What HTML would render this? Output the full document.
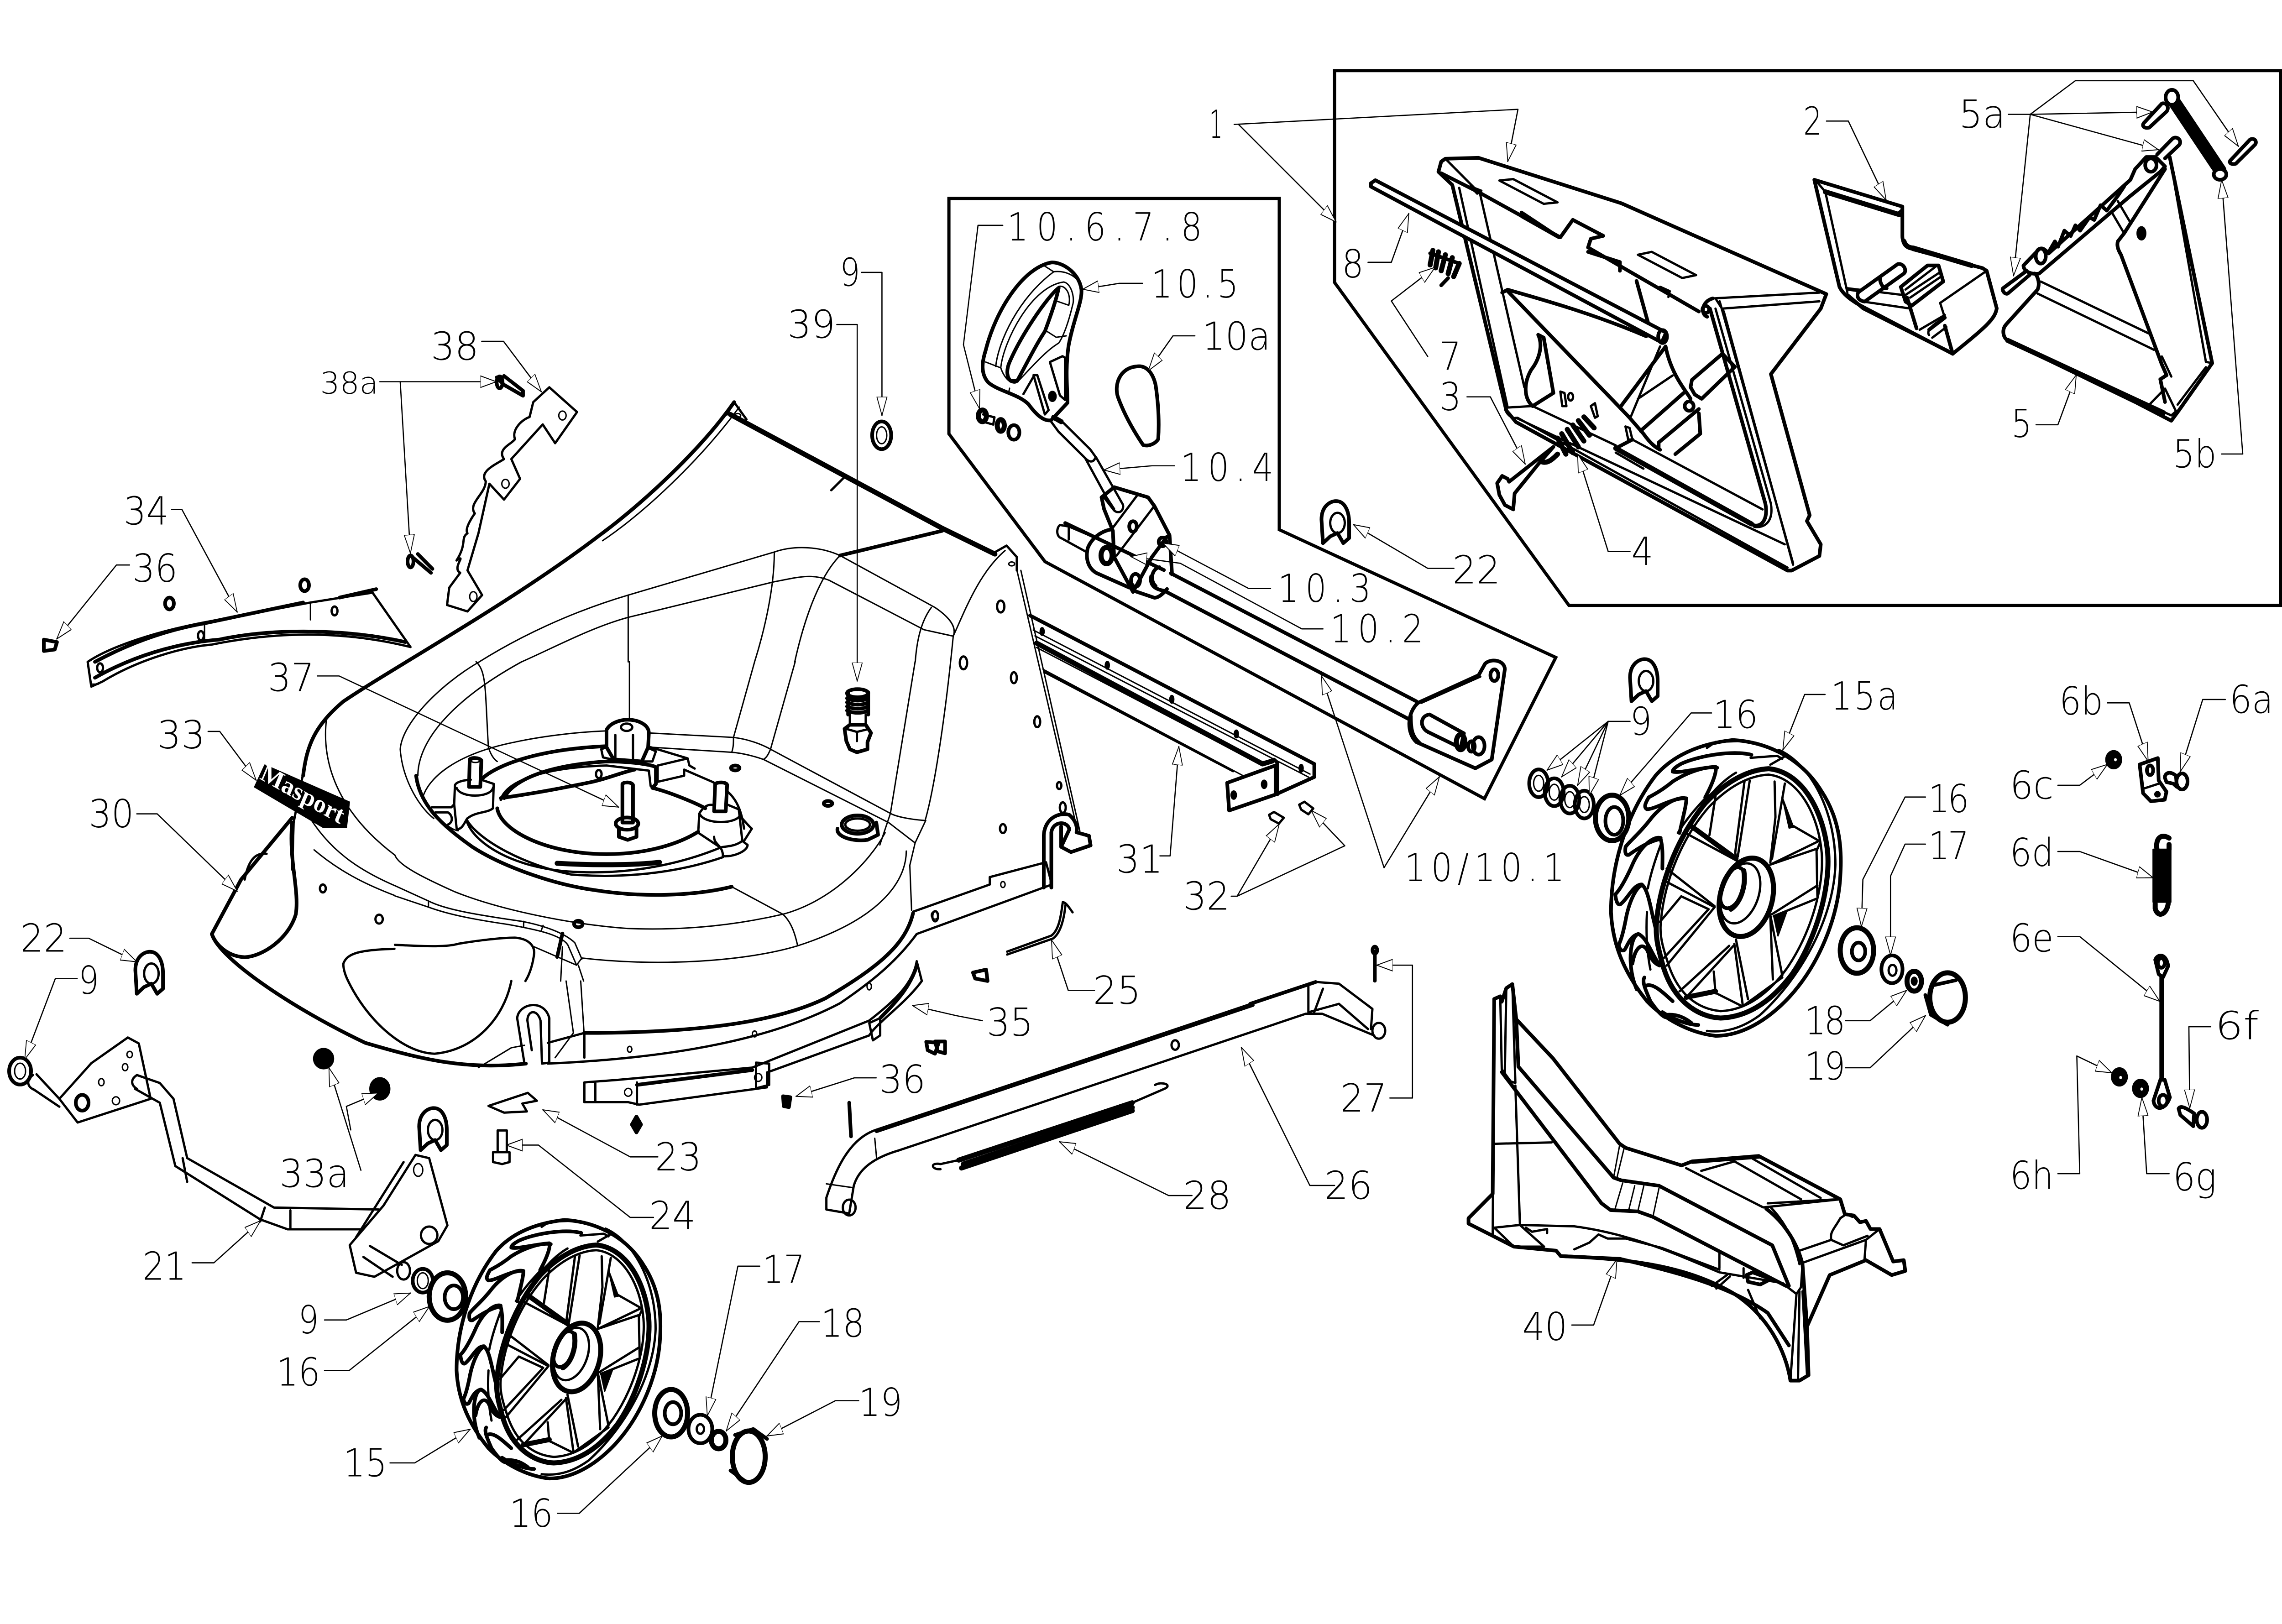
<!DOCTYPE html>
<html><head><meta charset="utf-8"><style>
html,body{margin:0;padding:0;background:#fff;width:100%;height:100%;overflow:hidden}
svg{display:block;width:100vw;height:100vh}
path,ellipse,circle,line,rect,polyline,polygon{fill:none;stroke:#000;stroke-width:3;stroke-linejoin:round;stroke-linecap:round;vector-effect:non-scaling-stroke}
.m{stroke-width:5}
.k{stroke-width:8}
.x{stroke-width:11}
.f{fill:#000}
.w{fill:#fff}
.b{stroke-width:7;stroke-linejoin:miter}
.ld path{stroke-width:2.6}
.ld path.n{marker-end:url(#ar)}
text{font-family:"DejaVu Sans","Liberation Sans",sans-serif;font-weight:200;font-size:23px;fill:#000;stroke:none}
.mk{fill:#fff;stroke:#000;stroke-width:.55;vector-effect:none}
</style></head><body>
<svg xmlns="http://www.w3.org/2000/svg" viewBox="0 0 5778 3559" preserveAspectRatio="none">
<defs>
<marker id="ar" markerUnits="userSpaceOnUse" markerWidth="14" markerHeight="10" refX="11" refY="4" orient="auto" viewBox="0 0 14 8"><path class="mk" d="M0,.5 L11,4 L0,7.5Z"/></marker>
<g id="clip"><path class="k w" d="M-8,12 L-9,-2 C-9,-10 -3,-13 1,-13 C7,-13 10,-7 10,0 L10,9 L6,12 L2,6 L-3,8 L-8,12Z"/><ellipse class="m" cx="2" cy="0" rx="5" ry="6"/></g>
<g id="wheel">
<path class="k w" d="M90,920 C90,650 200,400 350,230 C450,130 600,70 800,50 C1000,60 1200,140 1320,310 C1410,430 1440,560 1430,720 C1420,950 1300,1190 1130,1350 C1000,1470 850,1545 700,1545 C550,1530 400,1460 300,1370 C180,1240 100,1100 90,920 Z"/>
<path class="m" d="M1070,100 C1250,170 1400,400 1400,680 C1390,950 1200,1250 960,1440 C850,1510 750,1530 650,1520"/>
<path class="x" d="M355,980 C370,800 460,560 640,370 C760,260 890,200 1010,195 C1200,210 1330,400 1355,620 C1370,800 1290,1050 1150,1230 C1020,1380 880,1450 730,1455 C600,1450 450,1370 390,1180 C365,1100 350,1050 355,980Z"/>
<path class="m" d="M380,980 C395,800 480,570 660,390 C770,290 890,230 1010,225 C1180,240 1300,420 1320,620 C1335,790 1260,1020 1120,1200 C1000,1345 870,1415 730,1420 C600,1410 480,1340 420,1170 C390,1090 375,1040 380,980Z"/>
<ellipse class="x" cx="880" cy="845" rx="150" ry="205" transform="rotate(22 880 845)"/>
<ellipse class="m" cx="845" cy="825" rx="105" ry="160" transform="rotate(25 845 825)"/>
<ellipse class="k" cx="800" cy="797" rx="62" ry="110" transform="rotate(25 800 797)"/>
<path class="x" d="M865,710 C880,780 850,870 790,905"/>
<path class="m" d="M870,255 L815,620 L825,655 M900,255 L830,640 M700,335 L665,530 M1045,260 L1050,440 L1020,670 M1105,270 L1030,650 M1155,485 L1305,560 L1020,680 M1290,600 L1020,680 M1310,570 L1290,610 L1295,840 M1030,930 L1295,785 M1040,940 L1295,850 M1020,935 L1090,1240 M1020,940 L1035,1260 M820,1060 L890,1360 M810,1080 L860,1395 M1090,1250 L860,1395 M780,1090 L490,1320 M805,1090 L530,1350 M690,1220 L700,1330 M705,1330 L855,1395 M695,890 L415,700 M695,895 L400,760 M660,905 L500,840 M500,840 L375,970 M660,905 L400,1150 M690,900 L415,1190 M525,520 L825,660"/>
<path class="x" d="M550,480 L820,650 M530,1350 L700,1320"/>
<path class="f" d="M1090,340 L1155,490 L1130,495 Z M1040,940 L1115,920 L1065,1040Z"/>
<path class="k" d="M910,125 C800,100 600,130 500,170 C480,180 450,195 450,210 C480,220 620,190 700,185 C710,200 690,260 640,340"/>
<path class="k" d="M710,190 C650,180 540,210 450,260 C380,310 330,330 310,340 C290,370 280,390 300,400 C350,400 450,340 530,345 C530,380 510,440 490,520"/>
<path class="k" d="M530,345 C480,335 400,370 330,440 C260,520 200,560 175,590 C170,620 175,635 195,630 C260,590 320,560 380,550 C395,600 390,650 390,700"/>
<path class="k" d="M380,545 C340,535 270,580 220,670 C180,750 140,810 115,830 C120,870 130,885 145,880 C190,850 220,780 270,780 C310,810 320,900 350,1000"/>
<path class="k" d="M270,785 C240,790 200,860 180,940 C165,1010 150,1060 135,1085 C140,1110 155,1120 170,1110 C190,1080 205,1040 250,1030 C300,1050 320,1120 375,1190"/>
<path class="k" d="M250,1030 C215,1040 200,1110 205,1180 C210,1240 225,1280 240,1310 M215,1180 C230,1100 270,1070 300,1110 C320,1150 340,1180 375,1190"/>
<path class="k" d="M285,1250 C270,1270 290,1310 320,1370 C360,1420 400,1460 420,1450 M300,1290 C340,1280 400,1330 450,1370 M390,1425 C450,1460 540,1490 600,1490 M400,1440 C480,1430 530,1460 560,1480"/>
<path class="m" d="M380,580 C350,650 320,730 305,800 M300,920 C295,1000 295,1100 320,1210 M905,140 L1060,130 L1090,145 M640,345 C580,400 530,450 480,520 M820,215 C770,240 720,280 690,310 L630,360 M1020,175 L1100,135 M650,90 L700,60 L850,55"/>
</g>
</defs>

<!-- DECK & parts from zoom 1 -->
<g transform="translate(0,800) scale(1.8495,1.0842)">
<path class="k" d="M1005,75 C960,170 880,280 820,345 C700,480 540,610 470,680 C430,730 420,770 415,830"/>
<path d="M1012,85 C965,180 890,290 825,355"/>
<path class="x" d="M1000,100 L1290,330 L1362,382"/>
<path class="m" d="M995,100 L1005,75 L1022,110"/><circle cx="1010" cy="102" r="4"/>
<path class="m" d="M1138,253 L1155,228"/>
<path class="k" d="M1150,385 L1290,335"/>
<path class="m" d="M1360,380 L1378,365 L1392,388 L1392,415"/><circle cx="1385" cy="402" r="4"/>
<path d="M1376,375 C1340,420 1320,500 1305,548 C1295,700 1280,850 1267,918"/>
<path d="M1150,385 C1120,365 1085,365 1060,378 L860,465 C780,500 710,550 656,600"/>
<path d="M1135,435 C1110,420 1090,430 1060,438 L860,510 C810,530 760,570 714,600"/>
<path d="M1150,385 L1280,490 C1300,510 1310,530 1305,548 M1135,435 L1265,535 L1305,548 M1275,490 C1260,520 1255,560 1253,600"/>
<path d="M860,465 L860,600 M1060,380 C1060,440 1050,520 1033,600 M1150,385 C1120,430 1100,520 1088,600"/>
<path d="M447,715 C440,800 460,900 540,990"/>
<path d="M420,905 C450,980 490,1020 540,1052 M430,980 C470,1030 510,1055 540,1072 M795,1245 L800,1360 M775,1245 L785,1350 L760,1400"/>
<path class="m" d="M415,825 L402,925 L400,1020"/>
<!-- washer 9 -->
<ellipse class="k" cx="1207" cy="142" rx="13" ry="28"/><ellipse cx="1207" cy="142" rx="7" ry="17"/>
<!-- holes -->
<ellipse class="m" cx="1370" cy="488" rx="5" ry="12"/><ellipse class="m" cx="1319" cy="602" rx="5" ry="13"/><ellipse class="m" cx="1388" cy="632" rx="4" ry="11"/><ellipse class="m" cx="1420" cy="721" rx="4" ry="11"/><ellipse class="m" cx="1450" cy="850" rx="3" ry="7"/><ellipse class="m" cx="1373" cy="937" rx="4" ry="9"/>
<ellipse class="m" cx="442" cy="1058" rx="4" ry="8"/><ellipse class="m" cx="519" cy="1120" rx="5" ry="9"/>
<!-- nose -->
<path class="k" d="M400,915 L330,1040 L290,1150 C300,1200 400,1300 500,1370 C580,1405 640,1425 720,1412"/>
<path class="k" d="M400,925 C395,1000 410,1060 405,1110 C395,1160 360,1195 335,1197 C310,1195 295,1170 290,1150"/>
<path class="m" d="M335,1040 C340,1000 350,985 365,988"/>
<!-- vent -->
<path class="m" d="M470,1210 C475,1190 490,1182 540,1180 M700,1245 C690,1320 650,1385 595,1392 C550,1390 500,1320 475,1240 C472,1230 470,1220 470,1210"/>
<path d="M655,1420 L700,1380 L718,1375"/>
<!-- hook lower -->
<path class="m" d="M718,1412 L708,1320 C710,1290 745,1280 752,1320 L752,1410 L742,1412 L740,1325 C735,1300 722,1305 722,1325 L728,1385"/>
<!-- flange -->
<path class="m" d="M1250,1105 L1355,1050 L1355,1035 L1432,1005 L1440,1050 L1255,1150"/><ellipse cx="1373" cy="1050" rx="3" ry="6"/><ellipse cx="1280" cy="1112" rx="5" ry="8"/>
<path class="k" d="M1250,1108 C1240,1170 1205,1215 1130,1280 C1060,1330 950,1350 800,1350"/>
<path class="m" d="M1255,1150 C1230,1200 1200,1240 1150,1290 C1060,1360 930,1400 750,1412 M750,1370 L800,1350 L800,1400"/>
<ellipse cx="1190" cy="1256" rx="3" ry="7"/><ellipse cx="1033" cy="1352" rx="3" ry="6"/><ellipse cx="862" cy="1383" rx="3" ry="6"/>
<!-- part 35 -->
<path class="m" d="M1255,1205 L1262,1245 C1240,1290 1200,1330 1190,1355 L1050,1430 L1050,1460 L875,1495 L860,1490 L800,1490 L800,1450 L845,1445 L1030,1420 L1190,1325 C1225,1285 1250,1250 1255,1205Z"/>
<path class="k" d="M872,1455 L1030,1425 M1205,1320 C1225,1290 1245,1260 1255,1215"/>
<path class="m" d="M815,1452 L815,1490 M1035,1410 L1053,1412 L1053,1455 L1035,1462 Z M1190,1330 L1205,1320 L1205,1355 L1195,1365Z M872,1450 L872,1495"/>
<ellipse cx="1038" cy="1440" rx="5" ry="8"/><ellipse cx="860" cy="1470" rx="5" ry="8"/>
<!-- part 34 -->
<path class="m" d="M120,600 L125,650 L140,640 C190,595 250,570 290,565 C390,535 480,540 562,570 L510,460 L425,480 L280,520 C210,540 150,570 120,600Z"/>
<path class="k" d="M130,600 C180,560 230,535 280,522 L415,480 M465,470 L515,453 M130,632 C180,590 240,562 300,555 C380,530 480,535 555,560"/>
<path d="M280,522 L280,555 M425,482 L425,515 M125,645 L135,645"/><ellipse class="m" cx="275" cy="547" rx="4" ry="9"/><ellipse class="m" cx="458" cy="497" rx="4" ry="9"/><ellipse class="m" cx="137" cy="612" rx="4" ry="9"/>
<ellipse class="k" cx="232" cy="482" rx="6" ry="12"/><ellipse class="k" cx="417" cy="445" rx="6" ry="12"/>
<path class="k" d="M60,555 L78,560 L75,575 L60,578 Z"/>
<!-- part 38 -->
<path class="m" d="M752,45 L790,95 L760,158 L743,120 L700,190 L712,230 L690,272 L670,240 L655,340 L640,415 L660,465 L640,498 L612,485 L615,450 L630,420 C618,410 640,380 625,395 C640,360 630,350 640,340 C635,330 650,300 650,300 C640,280 665,260 665,235 C655,215 680,200 690,190 C680,170 700,160 705,150 C700,130 715,110 725,105 L730,75 Z"/>
<ellipse cx="770" cy="102" rx="5" ry="9"/><ellipse cx="692" cy="240" rx="5" ry="9"/><ellipse cx="648" cy="468" rx="5" ry="10"/>
<path class="k" d="M680,25 L690,40 L716,62 M690,22 L716,52 M716,52 L716,62"/><ellipse class="k" cx="684" cy="35" rx="4" ry="12"/>
<path class="k" d="M562,385 L590,420 M572,382 L592,412"/><ellipse class="k" cx="562" cy="397" rx="4" ry="12"/>
<!-- small bolts -->
<path class="k" d="M1332,1228 L1350,1222 L1352,1245 L1335,1240Z"/><path class="k" d="M1268,1368 L1285,1370 L1280,1392 L1270,1385Z"/>
<path class="k f" d="M1072,1478 L1082,1480 L1080,1500 L1073,1498Z"/>
<ellipse class="k f" cx="443" cy="1402" rx="12" ry="18"/><ellipse class="k f" cx="520" cy="1463" rx="12" ry="20"/>
</g>

<!-- centre of deck -->
<g transform="translate(1000,1450) scale(.8929,.4464)">
<path d="M15,430 C20,300 130,110 240,0 M230,0 C260,50 255,130 265,420 C270,450 280,480 290,490 M65,560 C65,400 150,200 360,0 M80,660 C100,750 160,830 180,830 M665,0 L665,285 M1020,0 L960,372 M1135,0 L1065,430 M1475,0 L1405,745 L1375,900 M1505,780 L1475,890 L1460,1000 L1465,1220 M15,430 C20,560 60,700 110,770"/>
<path d="M80,660 C100,560 180,450 340,395 C420,365 520,345 600,340 M720,350 L960,372 C1000,380 1040,405 1065,430 L1405,745 C1420,760 1460,775 1505,780 M960,372 C960,400 960,420 955,445 M1065,430 C1060,450 1055,470 1045,480 M725,420 L955,445 C990,450 1020,465 1045,480 L1400,790 L1475,890 M1390,840 C1340,1000 1230,1180 1100,1240 C950,1300 800,1320 660,1310 C500,1290 300,1220 170,1130 C80,1060 10,1000 0,950 M1450,930 C1450,1050 1400,1250 1142,1395 M955,1105 L1100,1240 C1125,1280 1135,1340 1142,1395 C1000,1470 750,1500 530,1455 L515,1490 L395,1400"/>
<path class="k" d="M60,560 C70,700 130,800 220,910 C300,1000 440,1090 560,1120 C700,1160 850,1150 955,1105 M250,570 C290,510 400,430 600,415 M310,670 C330,590 420,510 600,490 C680,490 740,510 740,520 L740,600 L730,620 C780,640 860,700 880,720 M290,720 C300,830 430,945 600,945 C720,945 810,890 860,835 M300,670 C380,650 450,630 560,590 C610,570 640,545 680,530"/>
<path class="m" d="M300,680 C310,600 400,520 600,510 L720,535 L725,610 L730,620 M205,790 C230,900 340,1010 490,1030 C650,1050 800,1000 920,915 M205,780 C240,880 370,1000 500,1045 C680,1070 830,1020 930,960"/>
<path class="x" d="M460,990 C560,1000 680,1000 750,985"/>
<path class="m" d="M745,510 L830,475 L835,510 L850,525 M745,590 L820,560 L820,530 L900,590 C960,640 980,700 990,820 M725,420 L830,475 M745,510 L745,590"/>
<path class="k w" d="M600,335 C610,300 640,285 660,285 C690,285 720,310 720,350 L718,420 L700,490 L620,480 L600,420 Z"/><ellipse class="m" cx="657" cy="322" rx="16" ry="18"/><path class="m" d="M625,360 L625,480 M675,360 L675,490 M600,420 L585,430 L590,470 L615,480 M720,425 L740,440 L730,490 L705,490"/>
<path class="k w" d="M212,480 C215,470 240,470 245,485 L242,615 L210,615 Z"/><ellipse cx="228" cy="487" rx="12" ry="8"/>
<path class="m" d="M170,610 C170,590 200,580 215,580 M245,580 L280,600 L278,720 C260,745 230,735 205,770 C200,780 190,830 175,820 L168,700 L170,610 M175,620 C185,670 270,670 278,620 M105,715 L160,715 L168,700 M115,740 L150,740 C165,755 165,790 150,800"/>
<path class="k w" d="M908,600 C915,590 940,590 942,605 L938,735 L905,735 Z"/>
<path class="m" d="M865,740 C880,700 895,700 905,705 M940,700 L975,725 L985,880 C960,915 920,905 925,915 L860,840 L863,745 M865,750 C880,800 970,800 980,750 M930,955 C960,960 1000,930 1000,900 L985,880 M905,860 C905,900 930,900 930,955 M985,770 C995,790 1005,810 1012,820 L990,880"/>
<path class="k w" d="M645,600 C650,590 670,590 675,605 L675,790 L645,790 Z"/><ellipse class="k" cx="658" cy="795" rx="32" ry="30"/><path class="k" d="M635,820 L635,860 L660,875 L685,860 L685,820"/>
<!-- bolt 39 -->
<ellipse class="k" cx="1312" cy="155" rx="30" ry="20"/>
<path class="k" d="M1282,180 C1300,195 1325,195 1342,180 M1282,200 C1300,215 1325,215 1342,200 M1282,220 C1300,235 1325,235 1342,220 M1282,240 C1300,255 1325,255 1342,240 M1285,150 L1285,260 M1342,150 L1342,260"/>
<path class="m" d="M1290,260 L1290,310 M1335,260 L1335,310"/>
<path class="k" d="M1290,310 L1275,330 L1280,390 L1290,430 L1310,445 L1340,430 L1340,395 L1350,350 L1335,310Z"/><path class="m" d="M1310,345 L1310,390 M1280,330 L1310,345 L1345,330"/>
<!-- plug -->
<ellipse class="k" cx="1312" cy="800" rx="45" ry="45"/><ellipse class="m" cx="1312" cy="800" rx="35" ry="30"/><path class="k" d="M1255,820 C1250,860 1300,885 1340,875 L1370,850 L1365,790"/>
<ellipse class="k" cx="965" cy="522" rx="12" ry="12"/><ellipse class="k" cx="1228" cy="696" rx="12" ry="12"/><ellipse class="m" cx="578" cy="552" rx="8" ry="20"/><ellipse class="k" cx="520" cy="1288" rx="12" ry="16"/>
<!-- lower band -->
<path d="M0,1100 L95,1175 C140,1215 220,1240 360,1275 C420,1295 480,1330 510,1380 L530,1460 M0,1150 L95,1205 C150,1240 220,1265 320,1290 C400,1315 470,1340 490,1390 L515,1490 M95,1175 L95,1205 M365,1275 L365,1300 M420,1295 L415,1320 M475,1400 L470,1568 M520,1490 L535,1568"/>
<path class="k" d="M475,1335 L460,1450"/>
<path class="m" d="M0,1390 C100,1400 150,1400 180,1385 C230,1370 300,1355 340,1355 C380,1360 395,1395 395,1430 C390,1500 380,1540 370,1568"/>
<ellipse class="m" cx="1532" cy="1250" rx="8" ry="25"/>
</g>

<!-- chute frame -->
<g transform="translate(3600,300) scale(.7015,.6378)">
<path class="k" d="M85,75 L205,72 L720,228 L1460,540 L1440,590 L1260,815 L1400,1300 L1390,1320 L1440,1400 L1435,1440 L1335,1490 L1320,1490 L340,980 L305,940 L110,165 L60,120 L70,85 Z"/>
<path class="k" d="M70,125 L205,190 L490,340 L500,345 L545,285 L655,340 L610,350 L600,380 L1000,600"/>
<path class="m" d="M1050,555 L1435,535 M1085,590 L1435,565 M135,175 L310,930 M210,195 L370,860 M300,935 C310,960 330,970 345,965 L1320,1480 M340,965 L1310,1400 M395,925 L310,930 M85,75 L205,190"/>
<path class="k" d="M1040,590 L1240,1260 C1250,1310 1230,1340 1200,1335 L1190,1330 L700,1070 L760,1040"/>
<path class="m" d="M1060,590 L1260,1260 C1270,1320 1240,1345 1200,1340 M400,925 L700,1060 M760,1040 L1230,1280 M1060,555 L1090,600 L1340,1470 M1075,565 L1340,1465"/>
<circle class="k" cx="1025" cy="593" r="12"/><path class="k" d="M1050,555 C1010,565 1005,610 1030,618"/>
<path class="m" d="M280,150 L330,145 L490,225 L440,230 Z M780,405 L830,395 L990,475 L940,485 Z"/>
<path class="k" d="M360,260 L495,345 M600,395 L715,430 L715,460"/>
<path class="m" d="M360,275 L490,345 M175,170 L215,185 L200,195 Z M860,515 L895,530 L890,550"/>
<path class="k" d="M775,495 L820,650 M290,535 L310,525 C400,550 600,600 810,685"/>
<path class="k" d="M310,530 L720,935 L750,965 L800,1020 C830,1060 850,1070 860,1075 M880,720 C900,820 960,880 970,900 M880,720 L715,930"/>
<path class="m" d="M860,720 L755,960 M780,900 L905,820"/>
<path class="k" d="M975,835 L1085,745 L1130,790 L1010,900 L985,885 L970,860 Z"/>
<path class="k" d="M945,880 L790,1010 M1000,935 L855,1050 L855,1070 M1000,950 L1005,1020 L915,1090"/>
<circle class="k" cx="965" cy="925" r="16"/>
<path class="k" d="M420,680 L440,690 L475,880 L400,925 C370,900 365,850 395,800 C420,770 440,720 420,680Z"/>
<path class="m" d="M500,875 L515,880 L522,925 L507,925Z M610,925 L625,915 L635,960 L625,965Z"/><ellipse class="m" cx="537" cy="893" rx="9" ry="13"/>
<path class="x" d="M700,1070 L1190,1330"/><path class="m" d="M700,1085 L800,1140 M735,995 L750,1000 L760,1040 L745,1040Z"/>
<path class="x" d="M585,962 L622,1000 M565,975 L605,1025 M545,990 L585,1045 M525,1005 L565,1065 M505,1020 L545,1085 M490,1035 L520,1090"/>
<path class="k w" d="M272,1190 L290,1165 L310,1175 L315,1185 L475,1065 L420,1125 L335,1225 L330,1280 L300,1265 L280,1230 Z"/>
<path class="x" d="M430,1115 C450,1125 470,1110 490,1090" stroke-dasharray="9 3"/>
<path class="x" d="M40,390 L30,440 M60,395 L50,450 M85,405 L70,460 M110,415 L95,470 M135,435 L115,480"/><path class="k" d="M95,485 L70,510 M30,400 L135,435"/>
</g>

<!-- rod 8 -->
<g transform="translate(2300,100) scale(2.2309,1.0842)">
<path class="k w" d="M525,278 L530,272 L860,580 L855,600 L525,285 Z"/><ellipse class="k" cx="856" cy="588" rx="5" ry="13"/>
<path class="k" d="M178,965 L290,1060"/>
</g>

<!-- parts 2,5 -->
<g transform="translate(4550,130) scale(.7964,.5867)">
<path class="k" d="M55,450 L335,550 L335,660 C335,690 350,700 370,710 L590,780 L603,790 L635,930 C630,970 600,1000 495,1100 L210,925 C170,900 145,875 135,850 Z"/>
<path class="x" d="M90,495 L325,580 M340,680 C345,700 360,705 370,705 L555,770"/>
<path class="m" d="M65,460 L90,495 L160,870 M335,560 L325,570 M603,790 L455,910 L470,965 C430,990 410,1015 420,1030 M160,860 L190,865 M210,905 L355,930 M160,855 L335,880"/>
<path class="k w" d="M195,870 L320,765 C340,760 350,790 340,800 L215,905 C190,900 190,880 195,870 Z"/><path class="k" d="M265,815 C260,830 275,860 285,855"/>
<path class="k" d="M330,850 L415,770 L450,770 L465,830 L365,920 L345,905Z"/><path class="m" d="M345,860 L440,775 M345,880 L455,795 M360,890 L460,810"/>
<path class="k" d="M350,890 L380,1005 M470,965 L420,1010 M470,995 L495,1100 M160,880 L210,930 L480,1090"/>
<path class="m" d="M390,1010 L470,955 M430,1040 L475,1000"/>
<!-- 5 -->
<path class="k" d="M1185,365 L1320,1135 L1215,1310 L1190,1350 L1075,1280 L670,1050 C655,1040 650,1010 665,990 L765,860 C775,830 760,800 755,800"/>
<path class="k" d="M720,770 L765,715 C775,700 785,705 800,725 L1060,450 L1075,410 L1110,365 L1140,365 L1170,400 L1155,420 L1060,510 L1000,570 L770,800 C750,805 720,795 720,770Z"/>
<path class="k" d="M800,720 L820,680 L830,700 L850,640 L870,660 L885,620 L900,640 L930,590 L945,600 L965,545 L985,565 L1020,510 L1040,475"/>
<ellipse class="k" cx="775" cy="735" rx="16" ry="28"/><ellipse class="k" cx="1125" cy="395" rx="18" ry="25"/><ellipse class="k f" cx="1095" cy="650" rx="10" ry="20"/>
<path class="k" d="M1170,410 L1040,650 L1020,680 C1015,700 1025,720 1030,730 L1160,1140 L1175,1180 L1155,1195 L1170,1280"/>
<path class="m" d="M1000,570 L1040,650 M1020,530 L1060,610 M775,830 L1120,1025 M765,875 L1135,1085 M1185,365 L1300,1130 L1320,1135 M1300,1150 L1210,1290 M1120,1290 L1170,1230 L1205,1315 L1190,1330 L1075,1270 M1160,1110 L1190,1185"/>
<path class="x" d="M670,1050 L1165,1320"/>
<path class="k" d="M1105,235 L1160,165 C1175,160 1185,180 1175,195 L1120,255 C1100,260 1095,245 1105,235Z M1145,355 L1195,295 C1210,285 1225,305 1215,320 L1170,370 M1380,375 L1440,300 C1455,290 1465,310 1455,320 L1395,390 C1380,395 1370,385 1380,375Z M655,855 L730,790 M670,875 L740,805 M655,855 C650,860 660,880 670,875"/>
<path d="M1200,160 L1345,415" style="stroke-width:28"/>
<ellipse class="k w" cx="1192" cy="142" rx="20" ry="28"/><ellipse class="k w" cx="1345" cy="430" rx="20" ry="20"/>
</g>

<!-- handle -->
<g transform="translate(2400,500) scale(.6378)">
<path class="k" d="M410,118 C450,115 520,150 530,210 C535,250 500,310 480,400 C465,480 475,560 475,600 L410,660 C380,665 350,640 320,605 C280,570 200,560 160,530 C130,500 135,460 150,420 C190,280 300,135 410,118Z"/>
<path d="M150,460 L210,480 M190,475 C200,390 280,240 420,150 M210,480 C220,390 330,200 460,185 C490,190 505,240 495,265 C480,320 460,370 440,395 C390,420 330,480 280,525 C260,545 225,520 210,480 M375,125 L420,150 C460,145 510,160 525,195 M440,200 C470,195 490,230 480,265 M430,250 L480,265 M385,350 L430,375 L470,370 M240,570 L245,550"/>
<path class="k" d="M440,205 C390,240 290,370 245,460 C230,490 235,515 250,525 L275,525 C310,470 350,400 385,355 C400,320 430,250 440,205 Z"/>
<path class="m" d="M405,460 L455,440 L465,445 L465,590 L445,575 Z M340,505 L355,505 L400,625 L385,640 L345,520Z M300,570 L340,510"/><ellipse class="k f" cx="415" cy="578" rx="10" ry="13"/>
<path class="m" d="M410,665 L440,700 L545,790 L630,925 L660,965 M460,670 L565,760 L590,790 L695,950 C700,970 680,985 660,970 L615,920 M545,790 C555,800 575,810 585,790"/>
<path class="x" d="M420,650 L450,665"/>
<path class="k" d="M610,925 L660,890 L795,925 L820,955 L880,1055 L890,1190 M610,925 L620,965 L655,1040 L660,1130 L735,1250 L810,1130 L870,1060"/>
<path class="m" d="M650,1035 L750,920 M670,1125 L815,960"/>
<path class="k" d="M650,1035 C610,1040 570,1065 555,1100 C545,1140 560,1170 590,1185 L720,1235 M735,1245 L820,1270 C840,1270 860,1250 870,1240"/>
<ellipse class="k" cx="735" cy="1025" rx="15" ry="18"/><ellipse class="x" cx="630" cy="1125" rx="22" ry="28"/><ellipse class="k" cx="745" cy="1210" rx="18" ry="22"/><ellipse class="k" cx="852" cy="1078" rx="15" ry="15"/>
<path class="m" d="M445,1020 C430,1030 430,1060 450,1065 L555,1115 M480,1025 L575,1060 M445,1020 L480,1025 L480,1070"/>
<path class="k" d="M840,1165 C810,1170 800,1210 825,1230"/>
<!-- 10.6.7.8 small -->
<ellipse class="x" cx="137" cy="645" rx="16" ry="20"/><path class="m" d="M140,640 L185,650 L180,675 L140,665"/><ellipse class="x" cx="210" cy="678" rx="14" ry="20"/><ellipse class="k" cx="262" cy="702" rx="22" ry="25"/>
<!-- knob 10a -->
<path class="k" d="M750,475 C790,470 815,500 825,540 C835,600 840,660 835,725 C820,745 790,750 775,745 C740,700 700,640 675,580 C660,540 680,480 750,475Z"/>
</g>

<!-- channel, arm plate, shaft -->
<g transform="translate(2550,1250) scale(.8291,.6378)">
<path d="M30,0 L215,895 M42,0 L222,895"/>
<path class="k" d="M70,155 L938,665 L938,710 L820,770"/>
<path d="M80,205 L925,700 M85,225 L920,710"/>
<path class="x" d="M90,250 L780,665 L810,655"/>
<path d="M90,265 L780,670 M110,340 L720,705"/>
<path class="m" d="M115,350 L690,690"/>
<path class="k" d="M815,650 L825,660 L825,770 M672,730 L820,670 L820,770 L678,825 Z"/>
<ellipse class="f" cx="692" cy="772" rx="8" ry="14"/><ellipse class="f" cx="785" cy="735" rx="8" ry="14"/>
<ellipse class="f" cx="107" cy="210" rx="6" ry="13"/><ellipse class="f" cx="306" cy="326" rx="6" ry="13"/><ellipse class="f" cx="503" cy="443" rx="6" ry="13"/><ellipse class="f" cx="700" cy="562" rx="6" ry="13"/><ellipse class="f" cx="898" cy="680" rx="6" ry="13"/>
<!-- hook -->
<path class="k" d="M112,1090 L112,910 C115,850 160,830 190,840 C210,860 215,880 212,900 M135,1090 L135,900 C140,860 185,860 190,890 L165,950 L165,880 M212,900 L250,912 L255,945 L195,968 L165,950"/>
<ellipse class="m" cx="170" cy="815" rx="9" ry="18"/>
<path class="m" d="M800,840 L815,830 L845,850 L830,870 L805,855 Z M892,805 L908,795 L935,818 L920,838 L898,822 Z"/>
<!-- 25 -->
<path class="m" d="M0,1310 L135,1255 C160,1235 165,1180 170,1140 C180,1140 190,1160 200,1175 M0,1320 L140,1265 C165,1245 175,1190 178,1150"/>
<!-- pin 27 -->
<path class="k" d="M1123,1310 L1123,1410"/><ellipse class="k" cx="1123" cy="1305" rx="7" ry="12"/>
<!-- shaft -->
<path class="k" d="M500,10 L1250,450 M480,70 L1225,510 M440,20 C435,50 450,65 480,70"/>
<path class="k" d="M1255,455 L1440,360 L1460,320 C1480,300 1520,310 1520,340 L1480,650 L1430,680 L1250,590 C1220,560 1220,490 1255,455Z"/>
<path class="m" d="M1265,455 L1445,365 M1235,500 C1235,550 1240,570 1260,590"/>
<path class="k" d="M1290,495 L1395,560 L1385,610 L1285,555 C1260,540 1260,500 1290,495Z"/>
<ellipse class="x" cx="1385" cy="590" rx="13" ry="26"/><ellipse class="k" cx="1418" cy="605" rx="10" ry="18"/><ellipse class="k" cx="1440" cy="603" rx="18" ry="30"/><ellipse class="k" cx="1488" cy="360" rx="12" ry="20"/>
</g>

<!-- wheels -->
<use href="#wheel" transform="translate(4040,1600) scale(.4337)"/>
<use href="#wheel" transform="translate(1156,2672) scale(.887,.874) translate(-4079,-1620) translate(4040,1600) scale(.4337)"/>

<!-- zoom 4 -->
<g transform="translate(3600,1400) scale(1.4088,1.0842)">
<ellipse class="k" cx="210" cy="292" rx="17" ry="28"/><ellipse cx="210" cy="292" rx="9" ry="16"/>
<ellipse class="k" cx="238" cy="310" rx="17" ry="28"/><ellipse cx="238" cy="310" rx="9" ry="16"/>
<ellipse class="k" cx="266" cy="325" rx="17" ry="28"/><ellipse cx="266" cy="325" rx="9" ry="16"/>
<ellipse class="k" cx="292" cy="335" rx="17" ry="28"/><ellipse cx="292" cy="335" rx="9" ry="16"/>
<ellipse class="x" cx="342" cy="362" rx="30" ry="46"/><ellipse class="k" cx="346" cy="368" rx="16" ry="28"/>
<ellipse class="x" cx="782" cy="630" rx="30" ry="46"/><ellipse class="k" cx="785" cy="632" rx="12" ry="18"/>
<ellipse class="k" cx="845" cy="668" rx="19" ry="28"/><ellipse class="m" cx="846" cy="670" rx="7" ry="11"/>
<ellipse class="x" cx="885" cy="692" rx="13" ry="20"/><ellipse class="f" cx="885" cy="692" rx="5" ry="8"/>
<ellipse class="x" cx="945" cy="725" rx="32" ry="50"/><path class="k" d="M905,720 L915,760 L945,780 M920,700 L960,690"/>
</g>

<!-- part 40 -->
<g transform="translate(3680,2130) scale(.7653,.5931)">
<path class="k" d="M135,100 L155,90 L160,110 L175,60 L195,45 L208,175 L330,320 L550,635 L570,650 L755,715 L790,700 L1010,680 L1280,840 L1295,895 L1325,900 L1345,925 L1365,920 L1380,950 L1410,950 L1455,1070 L1490,1065 L1495,1105 L1450,1120 L1365,1065 L1245,1120 L1170,1310 L1175,1490 L1145,1510 L1115,1510 C1100,1400 1040,1270 930,1190 C780,1090 600,1060 355,1050 L340,1030 L200,1015 L130,975 L50,930 L50,910 L130,820 Z"/>
<path class="m" d="M135,100 L130,975 M155,90 L160,360 L190,405 L205,410 L195,45 M175,60 L170,380 M205,420 L220,930 M135,635 L325,630 M135,945 L220,935 L400,940 C600,970 750,1050 880,1110 L1090,1150 M220,935 L300,1015 L200,1015 M135,945 L200,1015"/>
<path class="k" d="M208,175 L215,350 L530,760 L555,770 L680,790 L1055,1010 L1110,1160 M160,370 L490,855 L520,880 L610,885 L660,905 L1100,1160"/>
<path d="M550,640 L530,760 M565,650 L540,765 M560,780 L535,875 M600,790 L580,880 M630,790 L610,885 M680,800 L660,905"/>
<path class="m" d="M770,725 L1025,870 M790,705 L1020,685 M930,700 L1150,840 M990,690 L1215,835 M820,735 L930,700 M1025,870 L1280,840 M1040,855 L1270,840"/>
<path class="k" d="M1035,875 C1100,930 1140,1010 1155,1080 L1170,1310"/>
<path class="m" d="M1050,870 C1110,940 1130,1010 1145,1080 M1100,1160 L1135,1190 L1150,1165 L1155,1080 M1135,1190 L1115,1510 M1145,1180 L1140,1510 M1155,1180 L1170,1490 M1145,1030 L1250,990 L1290,1010 L1370,975 M1155,1075 L1365,990 L1410,950 M1250,990 C1245,960 1260,950 1280,910 M1365,990 L1360,1065 M1280,910 L1300,895 L1320,905"/>
<path class="k" d="M355,1050 L550,1060 C700,1100 900,1150 1040,1260 L1110,1380"/>
<path class="m" d="M400,1025 L450,1000 L480,970 L510,985 L570,985 L690,1020 L880,1100 M855,1160 L905,1120 M870,1170 L915,1125 M975,1175 L1015,1280 M960,1095 L960,1130 M880,1040 L880,1095 M240,945 L260,960 L310,950 L310,965"/>
<path class="k" d="M970,1120 L990,1110 L1050,1135 L1015,1155 L975,1145Z"/>
</g>

<!-- part 6 group -->
<g transform="translate(5100,1500) scale(.438,.7015)">
<ellipse class="f" cx="575" cy="235" rx="45" ry="28"/><ellipse class="w" style="stroke:none" cx="585" cy="235" rx="8" ry="5"/>
<path class="k" d="M725,250 L830,230 L835,300 L880,335 L870,360 L790,365 L745,340 Z"/><path class="m" d="M750,325 L835,310"/><ellipse class="k" cx="785" cy="268" rx="18" ry="15"/><ellipse class="f" cx="828" cy="343" rx="15" ry="8"/>
<path class="k" d="M870,290 C875,275 900,270 935,285 L940,320 L920,310 L880,305 Z"/><ellipse class="k w" cx="970" cy="303" rx="32" ry="25"/>
<rect class="f" x="803" y="515" width="102" height="165"/>
<path class="x" d="M825,515 C815,480 850,465 895,480 M895,500 L895,515 M890,685 C880,720 830,730 815,700 M815,685 L815,700"/>
<rect class="f" x="843" y="915" width="20" height="320"/>
<path class="k" d="M835,905 L815,860 C830,840 880,840 890,880 L860,915Z"/><ellipse class="k" cx="850" cy="870" rx="20" ry="15"/>
<path class="k" d="M845,1235 L805,1300 C810,1330 870,1335 900,1290 L870,1235Z"/><ellipse class="k" cx="860" cy="1300" rx="25" ry="18"/>
<ellipse class="f" cx="608" cy="1226" rx="45" ry="28"/><ellipse class="w" style="stroke:none" cx="615" cy="1228" rx="8" ry="5"/>
<ellipse class="f" cx="730" cy="1262" rx="45" ry="28"/><ellipse class="w" style="stroke:none" cx="737" cy="1264" rx="8" ry="5"/>
<path class="k" d="M950,1325 C960,1315 985,1320 1040,1340 L1035,1380 L960,1345Z"/><ellipse class="k w" cx="1085" cy="1360" rx="30" ry="25"/>
</g>

<!-- lower left, zoom 3 -->
<g transform="translate(0,2200) scale(2.312,.8667)">
<ellipse class="k" cx="22" cy="170" rx="12" ry="34"/><ellipse cx="22" cy="170" rx="6" ry="20"/>
<path class="m" d="M40,178 L65,240 M36,215 L65,260 M36,180 C28,195 30,210 38,218"/>
<path class="m" d="M85,300 L65,240 L100,150 L140,85 L152,100 L165,240 Z"/>
<ellipse cx="142" cy="128" rx="3" ry="8"/><ellipse cx="137" cy="160" rx="3" ry="9"/><ellipse cx="111" cy="198" rx="3" ry="9"/><ellipse cx="127" cy="245" rx="4" ry="10"/><ellipse class="k" cx="90" cy="250" rx="7" ry="20"/>
<path class="m" d="M150,180 L175,200 L190,240 L205,390 L300,515 L415,520 M148,215 L175,250 L192,410 L285,545 L315,570 L395,570 M150,180 C143,190 143,205 150,215 M200,390 L205,450 M290,515 L285,550 M318,522 L318,568"/>
<path class="m" d="M455,382 L470,390 L490,560 L480,600 L410,690 L390,680 L383,610 L420,510 Z M442,400 L390,590"/>
<ellipse cx="458" cy="420" rx="5" ry="16"/><ellipse class="m" cx="470" cy="585" rx="9" ry="22"/>
<path class="m" d="M405,612 L440,660 M398,640 L430,690"/><ellipse class="m" cx="442" cy="675" rx="7" ry="22"/>
<ellipse class="k" cx="463" cy="700" rx="11" ry="30"/><ellipse cx="463" cy="700" rx="6" ry="20"/>
<ellipse class="x" cx="490" cy="740" rx="20" ry="60"/><ellipse class="k" cx="497" cy="742" rx="10" ry="30"/>
<ellipse class="x" cx="735" cy="1035" rx="18" ry="60"/><ellipse class="k" cx="737" cy="1035" rx="9" ry="28"/>
<ellipse class="k" cx="767" cy="1075" rx="13" ry="36"/><ellipse class="m" cx="767" cy="1075" rx="4" ry="12"/>
<ellipse class="x" cx="787" cy="1103" rx="8" ry="22"/>
<ellipse class="x" cx="820" cy="1145" rx="18" ry="65"/><path class="k" d="M805,1090 L825,1075 L840,1100 M800,1180 L818,1210"/>
<path class="m" d="M535,258 L578,225 L588,245 L572,252 L577,272 L552,275 Z"/>
<path class="m" d="M545,320 L555,320 L555,375 L545,375 Z M540,375 L558,375 L558,400 L550,405 L540,400 Z"/>
<path class="k f" d="M697,285 L702,305 L697,325 L692,305Z"/>
<path class="k" d="M930,250 L932,335"/>
<path class="m" d="M1370,0 L960,318 C930,340 915,420 905,490 L905,520 L930,530 L935,460 C940,420 955,390 985,370 L1430,25 L1448,25 L1505,80"/>
<path class="k" d="M960,322 L1372,3"/>
<path d="M958,340 L960,390 M905,455 L935,465"/>
<ellipse class="m" cx="1287" cy="104" rx="4" ry="12"/><ellipse class="m" cx="930" cy="515" rx="7" ry="20"/><ellipse class="m" cx="1510" cy="68" rx="7" ry="20"/>
<path class="x" d="M1050,395 L1240,250 M1053,415 L1240,270" stroke-dasharray="6 1"/><path class="x" d="M1055,405 L1240,262"/>
<path class="m" d="M1050,395 L1030,405 C1018,400 1020,420 1030,418 M1240,250 L1275,215 C1285,205 1272,195 1265,205"/>
<path class="k" d="M1024,95 L1035,95 L1035,125 L1027,120Z"/>
</g>

<!-- Uniform unit group: box outlines, leaders, labels -->
<g transform="scale(3.685)">
<path class="b" d="M917,42 L1567,42 L1567,360 L1078,360 L917,168 Z"/>
<path class="b" d="M652,118 L879,118 L879,315 L1069,391 L1020,475 L718,334 L652,258 Z"/>
<use href="#clip" transform="translate(917,311)"/>
<use href="#clip" transform="translate(102,579)"/>
<use href="#clip" transform="translate(297,672)"/>
<use href="#clip" transform="translate(1129,405)"/>
<path class="k" d="M859,597 L904,584"/><path class="m" d="M904,584 L920,585 L943,600 L942,612 M899,602 L920,597 L940,612 M899,585 L899,602 M909,588 L903,602"/>
<!-- logo -->
<path class="f" d="M182,455 L240,477 L238,492 L222,492 L175,468 Z"/>
<text transform="translate(178,463) rotate(26)" textLength="62" lengthAdjust="spacingAndGlyphs" style="font-family:'Liberation Serif',serif;font-size:15px;font-weight:bold;fill:#fff;stroke:none">Masport</text>
<g class="ld">
<path class="n" d="M848,74 L1043,65 L1036,96"/><path class="n" d="M851,74 L918,132"/>
<path class="n" d="M1255,72 L1270,72 L1296,119"/>
<path class="n" d="M1380,68 L1395,68 L1479,66.6"/><path class="n" d="M1395,68 L1483,89"/><path class="n" d="M1395,68 L1426,48 L1507,48 L1538,87"/><path class="n" d="M1395,68 L1383.5,164"/>
<path class="n" d="M940,156 L956,156 L968,127"/>
<path class="n" d="M981,212 L956,179 L986,159"/>
<path class="n" d="M1008,236 L1024,236 L1048,276"/>
<path class="n" d="M1120,328 L1105,328 L1084,270"/>
<path class="n" d="M1399,252.6 L1414,252.6 L1426.6,223"/>
<path class="n" d="M1526.5,270 L1541,270 L1526.5,107"/>
<path class="n" d="M689,134 L672,134 L662,205 L673,243"/>
<path class="n" d="M785,168.5 L769,168.5 L744,172"/>
<path class="n" d="M821,199.7 L806,199.7 L789,220.5"/>
<path class="n" d="M807,277 L791.5,277 L758.6,279.5"/>
<path class="n" d="M873,350 L858,350 L799,323"/>
<path class="n" d="M909,374 L894.5,374 L811,335 L777,331"/>
<path class="n" d="M999,338 L981,338 L930,312"/>
<path class="n" d="M951,516 L908,402"/><path class="n" d="M951,516 L989,462"/>
<path class="n" d="M1120,429 L1105,429 L1063,458"/><path class="n" d="M1105,429 L1073,462"/><path class="n" d="M1105,429 L1084,467"/><path class="n" d="M1105,429 L1092,473"/>
<path class="n" d="M1176,424 L1162,424 L1113,473"/>
<path class="n" d="M1254,413 L1240,413 L1225,446"/>
<path class="n" d="M1323,474 L1309,474 L1280,523 L1279,551"/>
<path class="n" d="M1323,502 L1309,502 L1299,521 L1299,568"/>
<path class="n" d="M1268,607 L1285,607 L1310,589"/>
<path class="n" d="M1268,635 L1285,635 L1323,604"/>
<path class="n" d="M1448,418 L1463,418 L1476,452.7"/>
<path class="n" d="M1529,416 L1513.5,416 L1498,459"/>
<path class="n" d="M1414,467 L1429,467 L1448,454.6"/>
<path class="n" d="M1414,506.4 L1429,506.4 L1479.4,522"/>
<path class="n" d="M1414,557 L1429,557 L1484,595.5"/>
<path class="n" d="M1519,610.6 L1504,610.6 L1504.6,659"/>
<path class="n" d="M1490.4,698 L1475,698 L1471.7,652.7"/>
<path class="n" d="M1414,698 L1429,698 L1427,628 L1451,638"/>
<path class="n" d="M1080,788 L1095,788 L1111,749"/>
<path class="n" d="M261,227 L341,227"/><path class="n" d="M275,227 L282,329"/>
<path class="n" d="M331,203 L346,203 L372,233"/>
<path class="n" d="M118,303 L125,303 L163,364"/>
<path class="n" d="M89,336 L80,336 L39,380"/>
<path class="n" d="M218,402 L233,402 L425,480"/>
<path class="n" d="M143,435 L151,435 L176,464"/>
<path class="n" d="M94,484 L108,484 L163,530"/>
<path class="n" d="M48,558 L61,558 L94,572"/>
<path class="n" d="M53,582 L38,582 L17,630"/>
<path class="n" d="M592,162 L606,162 L606,247"/>
<path class="n" d="M575,193 L589,193 L589,405"/>
<path class="n" d="M752,589 L734,589 L722.5,559"/>
<path class="n" d="M675,607 L657,604 L627,598"/>
<path class="n" d="M602,641 L587,641 L547,652"/>
<path class="n" d="M248,696 L226,635"/><path class="n" d="M241,672 L238,658 L260,650"/>
<path class="n" d="M132,751 L147,751 L179,726"/>
<path class="n" d="M223,785 L238,785 L282,769"/>
<path class="n" d="M223,815 L240,815 L295,777"/>
<path class="n" d="M268,870 L285,870 L323,850"/>
<path class="n" d="M383,900 L398,900 L455,854"/>
<path class="n" d="M522,753 L507,753 L486,842"/>
<path class="n" d="M563,786 L549,786 L499,851"/>
<path class="n" d="M590,833 L574,833 L527,854"/>
<path class="n" d="M452,688 L433,688 L373,660"/>
<path class="n" d="M449,724 L433,724 L370,681 L348,681"/>
<path class="n" d="M819,711 L803,711 L728,679"/>
<path class="n" d="M917,705 L900,705 L853,623"/>
<path class="n" d="M955,653 L970.5,653 L970.5,574 L946,574"/>
<path class="n" d="M797,509 L804,509 L810,444"/>
<path class="n" d="M846,533 L850,533 L879,490"/><path class="n" d="M850,533 L924,503 L901,482"/>
</g>
<text x="831" y="82" textLength="9" lengthAdjust="spacingAndGlyphs">1</text>
<text x="1239" y="80" textLength="13" lengthAdjust="spacingAndGlyphs">2</text>
<text x="1346" y="76" textLength="32" lengthAdjust="spacingAndGlyphs">5a</text>
<text x="922" y="165" textLength="15" lengthAdjust="spacingAndGlyphs">8</text>
<text x="989" y="220" textLength="15" lengthAdjust="spacingAndGlyphs">7</text>
<text x="989" y="244" textLength="15" lengthAdjust="spacingAndGlyphs">3</text>
<text x="1121" y="336" textLength="15" lengthAdjust="spacingAndGlyphs">4</text>
<text x="1382" y="260" textLength="14" lengthAdjust="spacingAndGlyphs">5</text>
<text x="1493" y="278" textLength="30" lengthAdjust="spacingAndGlyphs">5b</text>
<text x="692" y="143" textLength="134">10.6.7.8</text>
<text x="791" y="177" textLength="60">10.5</text>
<text x="826" y="208" textLength="47" lengthAdjust="spacingAndGlyphs">10a</text>
<text x="811" y="286" textLength="64">10.4</text>
<text x="878" y="358" textLength="64">10.3</text>
<text x="914" y="382" textLength="64">10.2</text>
<text x="998" y="347" textLength="33" lengthAdjust="spacingAndGlyphs">22</text>
<text x="577" y="170" textLength="14" lengthAdjust="spacingAndGlyphs">9</text>
<text x="541" y="201" textLength="33" lengthAdjust="spacingAndGlyphs">39</text>
<text x="296" y="214" textLength="33" lengthAdjust="spacingAndGlyphs">38</text>
<text x="220" y="234" textLength="40" lengthAdjust="spacingAndGlyphs" style="font-size:18px">38a</text>
<text x="85" y="312" textLength="31" lengthAdjust="spacingAndGlyphs">34</text>
<text x="91" y="346" textLength="31" lengthAdjust="spacingAndGlyphs">36</text>
<text x="184" y="411" textLength="32" lengthAdjust="spacingAndGlyphs">37</text>
<text x="108" y="445" textLength="33" lengthAdjust="spacingAndGlyphs">33</text>
<text x="61" y="492" textLength="31" lengthAdjust="spacingAndGlyphs">30</text>
<text x="14" y="566" textLength="32" lengthAdjust="spacingAndGlyphs">22</text>
<text x="54" y="591" textLength="14" lengthAdjust="spacingAndGlyphs">9</text>
<text x="192" y="706" textLength="48" lengthAdjust="spacingAndGlyphs">33a</text>
<text x="98" y="761" textLength="30" lengthAdjust="spacingAndGlyphs">21</text>
<text x="205" y="793" textLength="14" lengthAdjust="spacingAndGlyphs">9</text>
<text x="190" y="824" textLength="30" lengthAdjust="spacingAndGlyphs">16</text>
<text x="236" y="878" textLength="30" lengthAdjust="spacingAndGlyphs">15</text>
<text x="350" y="908" textLength="30" lengthAdjust="spacingAndGlyphs">16</text>
<text x="524" y="763" textLength="29" lengthAdjust="spacingAndGlyphs">17</text>
<text x="564" y="795" textLength="30" lengthAdjust="spacingAndGlyphs">18</text>
<text x="590" y="842" textLength="30" lengthAdjust="spacingAndGlyphs">19</text>
<text x="751" y="597" textLength="33" lengthAdjust="spacingAndGlyphs">25</text>
<text x="678" y="616" textLength="32" lengthAdjust="spacingAndGlyphs">35</text>
<text x="604" y="650" textLength="32" lengthAdjust="spacingAndGlyphs">36</text>
<text x="450" y="696" textLength="32" lengthAdjust="spacingAndGlyphs">23</text>
<text x="446" y="731" textLength="32" lengthAdjust="spacingAndGlyphs">24</text>
<text x="813" y="719" textLength="33" lengthAdjust="spacingAndGlyphs">28</text>
<text x="910" y="713" textLength="33" lengthAdjust="spacingAndGlyphs">26</text>
<text x="921" y="661" textLength="32" lengthAdjust="spacingAndGlyphs">27</text>
<text x="767" y="519" textLength="32" lengthAdjust="spacingAndGlyphs">31</text>
<text x="813" y="541" textLength="32" lengthAdjust="spacingAndGlyphs">32</text>
<text x="965" y="524" textLength="110">10/10.1</text>
<text x="1120" y="437" textLength="15" lengthAdjust="spacingAndGlyphs">9</text>
<text x="1177" y="433" textLength="31" lengthAdjust="spacingAndGlyphs">16</text>
<text x="1258" y="422" textLength="46">15a</text>
<text x="1325" y="483" textLength="28">16</text>
<text x="1325" y="511" textLength="28">17</text>
<text x="1240" y="615" textLength="28">18</text>
<text x="1240" y="642" textLength="28">19</text>
<text x="1046" y="797" textLength="31" lengthAdjust="spacingAndGlyphs">40</text>
<text x="1415" y="425" textLength="30" lengthAdjust="spacingAndGlyphs">6b</text>
<text x="1532" y="424" textLength="30" lengthAdjust="spacingAndGlyphs">6a</text>
<text x="1381" y="475" textLength="30" lengthAdjust="spacingAndGlyphs">6c</text>
<text x="1381" y="515" textLength="30" lengthAdjust="spacingAndGlyphs">6d</text>
<text x="1381" y="566" textLength="30" lengthAdjust="spacingAndGlyphs">6e</text>
<text x="1522" y="618" textLength="30" lengthAdjust="spacingAndGlyphs">6f</text>
<text x="1381" y="707" textLength="30" lengthAdjust="spacingAndGlyphs">6h</text>
<text x="1493" y="708" textLength="30" lengthAdjust="spacingAndGlyphs">6g</text>
</g>
</svg>
</body></html>
